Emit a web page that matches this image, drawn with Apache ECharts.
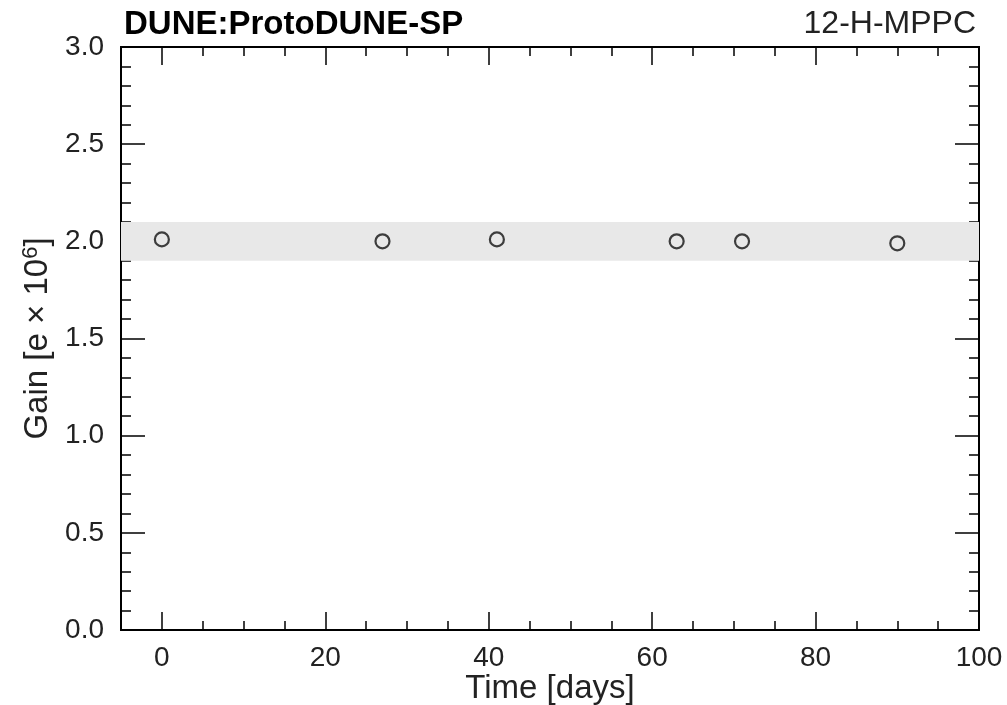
<!DOCTYPE html>
<html>
<head>
<meta charset="utf-8">
<script src="https://cdn.jsdelivr.net/npm/echarts@6/dist/echarts.min.js"></script>
<style>html,body{margin:0;padding:0;background:#fff}#c{width:1007px;height:705px}</style>
</head>
<body>
<div id="c"></div>
<script>
const days = [0, 27, 41, 63, 71, 90];
const gain = [2.01, 2.0, 2.01, 2.0, 2.0, 1.99];
const bandRange = [1.9, 2.1];
const xMajorTicks = [0, 20, 40, 60, 80, 100];
const xMinorTicks = [-5, 5, 10, 15, 25, 30, 35, 45, 50, 55, 65, 70, 75, 85, 90, 95];
const titleLeft = 'DUNE:ProtoDUNE-SP';
const titleRight = '12-H-MPPC';

const FONT = 'Liberation Sans, Arial, Helvetica, sans-serif';
const chart = echarts.init(document.getElementById('c'), null, {renderer: 'canvas'});

function xAx(pos, ticks, len, labels) {
  return {
    type: 'value', position: pos, min: -5, max: 100,
    axisLine: {show: true, onZero: false, lineStyle: {color: '#000', width: 2}},
    axisTick: {show: true, inside: true, length: len, customValues: ticks, lineStyle: {color: '#000', width: 1.5}},
    axisLabel: labels ? {show: true, customValues: ticks, color: '#222', fontSize: 28, fontFamily: FONT, margin: 14} : {show: false},
    splitLine: {show: false}
  };
}
function yAx(pos, labels) {
  return {
    type: 'value', position: pos, min: 0, max: 3, interval: 0.5,
    axisLine: {show: true, onZero: false, lineStyle: {color: '#000', width: 2}},
    axisTick: {show: true, inside: true, length: 24, lineStyle: {color: '#000', width: 1.5}},
    minorTick: {show: true, splitNumber: 5, length: 10, lineStyle: {color: '#000', width: 1.5}},
    axisLabel: labels ? {show: true, color: '#222', fontSize: 28, fontFamily: FONT, margin: 17, formatter: v => v.toFixed(1)} : {show: false},
    splitLine: {show: false}
  };
}

const xAxes = [
  xAx('bottom', xMajorTicks, 18, true),
  xAx('bottom', xMinorTicks, 9, false),
  xAx('top', xMajorTicks, 18, false),
  xAx('top', xMinorTicks, 9, false)
];
xAxes[0].name = 'Time [days]';
xAxes[0].nameLocation = 'middle';
xAxes[0].nameGap = 42;
xAxes[0].nameMoveOverlap = false;
xAxes[0].nameTextStyle = {color: '#222', fontSize: 33, fontFamily: FONT, verticalAlign: 'top'};

const yAxes = [yAx('left', true), yAx('right', false)];
yAxes[0].name = '{n|Gain [e × 10}{s|6}{n|]}';
yAxes[0].nameLocation = 'middle';
yAxes[0].nameGap = 64;
yAxes[0].nameTextStyle = {
  rich: {
    n: {color: '#222', fontSize: 33, fontFamily: FONT},
    s: {color: '#222', fontSize: 22, fontFamily: FONT, verticalAlign: 'top', padding: [0, 0, 14, 0]}
  }
};

chart.setOption({
  animation: false,
  backgroundColor: '#fff',
  grid: {left: 121, right: 28, top: 47, bottom: 75, containLabel: false, outerBoundsMode: 'none'},
  title: [
    {text: titleLeft, left: 119, top: 3, textStyle: {color: '#000', fontSize: 33, fontWeight: 'bold', fontFamily: FONT}},
    {text: titleRight, right: 26, top: 3, textStyle: {color: '#222', fontSize: 32, fontWeight: 'normal', fontFamily: FONT}}
  ],
  xAxis: xAxes,
  yAxis: yAxes,
  series: [{
    type: 'scatter',
    xAxisIndex: 0, yAxisIndex: 0,
    data: days.map((d, i) => [d, gain[i]]),
    symbol: 'circle', symbolSize: 14,
    itemStyle: {color: 'rgba(255,255,255,0)', borderColor: '#111', borderWidth: 2.2},
    markArea: {
      silent: true,
      itemStyle: {color: '#e8e8e8'},
      data: [[{yAxis: bandRange[0]}, {yAxis: bandRange[1]}]]
    },
    z: 5
  }]
});
</script>
</body>
</html>
